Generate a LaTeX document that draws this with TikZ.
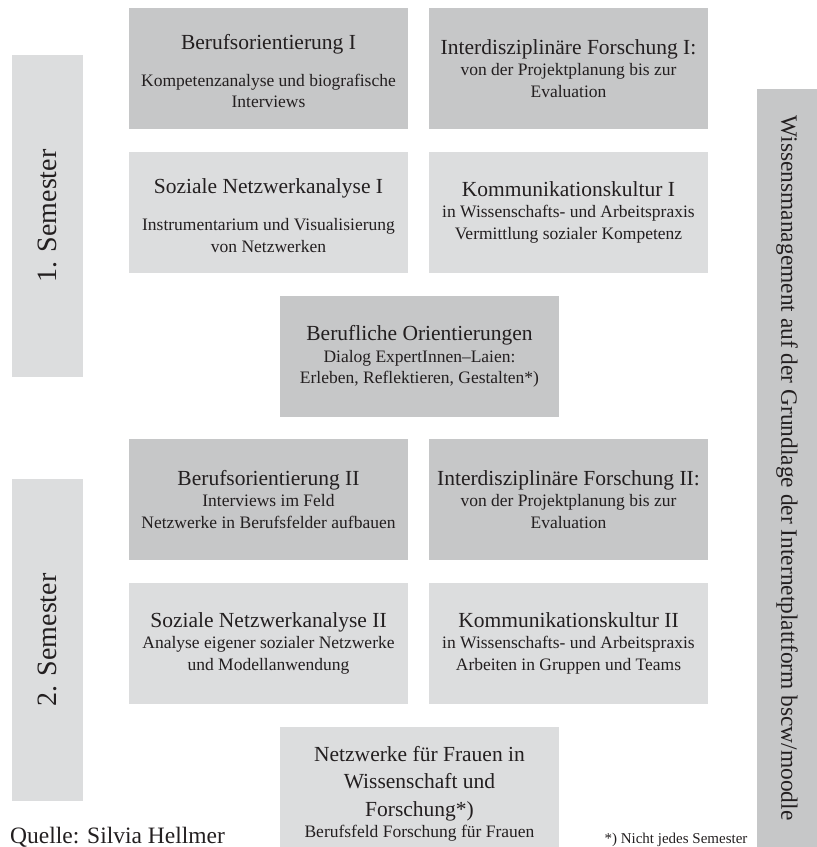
\documentclass[tikz,border=0pt]{standalone}
\usepackage{fontspec}
\setmainfont{Liberation Serif}
\definecolor{darkbox}{RGB}{198,199,200}
\definecolor{lightbox}{RGB}{220,221,222}
\definecolor{ink}{RGB}{35,31,32}
\newcommand{\boxtitle}{\fontsize{21.5}{25}\selectfont}
\newcommand{\boxsub}{\fontsize{17.5}{21.5}\selectfont}
\newcommand{\coursetext}[2]{\begin{minipage}{277pt}\centering\boxtitle #1\par\boxsub #2\par\end{minipage}}
\tikzset{
  course/.style={rectangle, inner sep=0pt, minimum width=279pt, minimum height=121pt,
    text=ink},
  darkc/.style={course, fill=darkbox},
  lightc/.style={course, fill=lightbox},
  sembar/.style={rectangle, inner sep=0pt, fill=lightbox, rotate=90,
    minimum width=322pt, minimum height=71pt, text=ink, font=\fontsize{28}{32}\selectfont},
  wmbar/.style={rectangle, inner sep=0pt, fill=darkbox, rotate=-90,
    minimum width=758pt, minimum height=60pt, text=ink, font=\fontsize{23.4}{27}\selectfont},
}
\begin{document}
\begin{tikzpicture}[x=1pt,y=-1pt]
\useasboundingbox (0,0) rectangle (817,847);
\node[darkc] (b1) at (268.5,68.5) {\coursetext{\vspace*{6pt}Berufsorientierung I\vspace{15pt}}{Kompetenzanalyse und biografische\\ Interviews}};
\node[darkc] (i1) at (568.5,68.5) {\coursetext{Interdisziplinäre Forschung I:}{von der Projektplanung bis zur\\ Evaluation}};
\node[lightc] (s1) at (268.5,212) {\coursetext{\vspace*{7pt}Soziale Netzwerkanalyse I\vspace{16pt}}{Instrumentarium und Visualisierung\\ von Netzwerken}};
\node[lightc] (k1) at (568.5,212) {\coursetext{Kommunikationskultur I}{in Wissenschafts- und Arbeitspraxis\\ Vermittlung sozialer Kompetenz}};
\node[darkc] (bo) at (419.5,356.5) {\coursetext{Berufliche Orientierungen}{Dialog ExpertInnen–Laien:\\ Erleben, Reflektieren, Gestalten*)}};
\node[darkc] (b2) at (268.5,499.5) {\coursetext{Berufsorientierung II}{Interviews im Feld\\ Netzwerke in Berufsfelder aufbauen}};
\node[darkc] (i2) at (568.5,499.5) {\coursetext{Interdisziplinäre Forschung II:}{von der Projektplanung bis zur\\ Evaluation}};
\node[lightc] (s2) at (268.5,643) {\coursetext{Soziale Netzwerkanalyse II}{Analyse eigener sozialer Netzwerke\\ und Modellanwendung}};
\node[lightc] (k2) at (568.5,643) {\coursetext{Kommunikationskultur II}{in Wissenschafts- und Arbeitspraxis\\ Arbeiten in Gruppen und Teams}};
\node[lightc, minimum height=120pt] (nf) at (419.5,787) {\begin{minipage}{277pt}\centering\vspace*{14pt}\fontsize{21.5}{27.5}\selectfont Netzwerke für Frauen in\\ Wissenschaft und\\ Forschung*)\par\boxsub Berufsfeld Forschung für Frauen\par\end{minipage}};
\node[sembar] (sem1) at (47.5,216) {1. Semester};
\node[sembar] (sem2) at (47.5,640) {2. Semester};
\node[wmbar] (wm) at (787,468) {Wissensmanagement auf der Grundlage der Internetplattform bscw/moodle};
\node[anchor=base west, inner sep=0pt, text=ink, font=\fontsize{23.5}{26}\selectfont] (quelle) at (10,843) {Quelle: Silvia Hellmer};
\node[anchor=base, inner sep=0pt, text=ink, font=\fontsize{15}{18}\selectfont] (note) at (676,843) {*) Nicht jedes Semester};
\end{tikzpicture}
\end{document}
